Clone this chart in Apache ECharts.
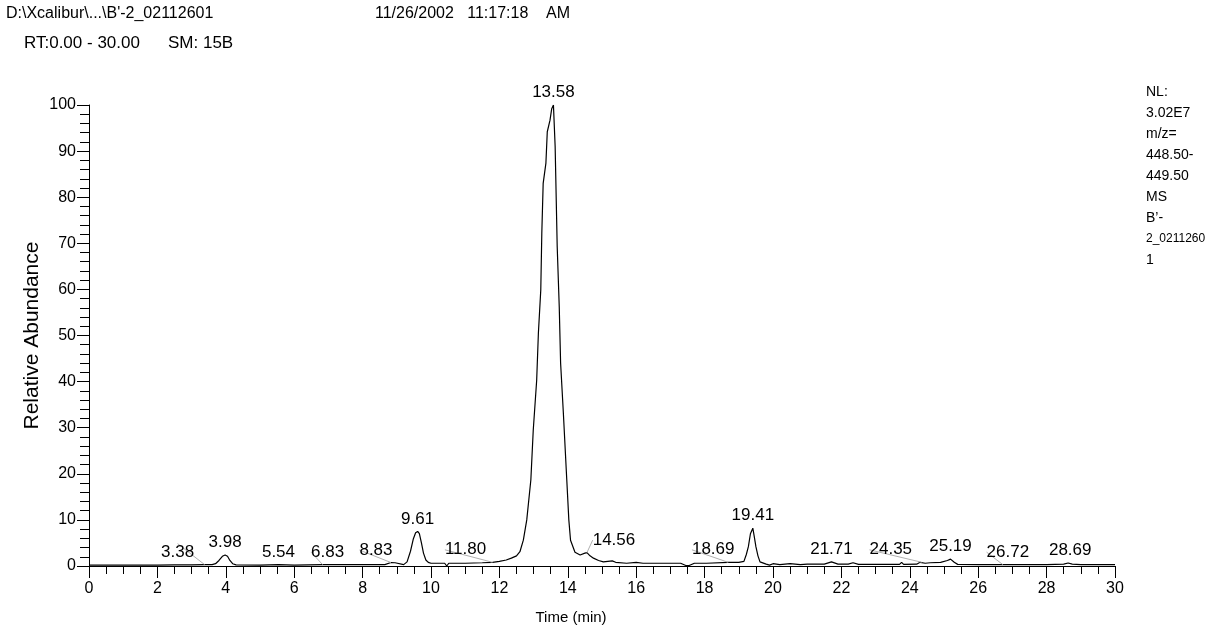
<!DOCTYPE html>
<html>
<head>
<meta charset="utf-8">
<script src="https://cdn.jsdelivr.net/npm/echarts@6/dist/echarts.min.js"></script>
<style>
  html, body { margin: 0; padding: 0; background: #fff; }
  #chart { width: 1205px; height: 626px; }
</style>
</head>
<body>
<div id="chart"></div>
<script>
// ---- Data ----
const times = [
  0, 0.5, 1, 1.5, 2, 2.5, 3, 3.38, 3.6, 3.7,
  3.8, 3.9, 3.98, 4.05, 4.12, 4.2, 4.3, 5, 5.54, 6,
  6.83, 7.5, 8, 8.5, 8.65, 8.7, 8.83, 8.95, 9.0, 9.2,
  9.3, 9.4, 9.48, 9.55, 9.61, 9.66, 9.72, 9.78, 9.85, 9.92,
  10.0, 10.4, 10.46, 10.52, 11.0, 11.5, 11.8, 12.0, 12.2, 12.35,
  12.5, 12.6, 12.7, 12.8, 12.92, 12.99, 13.09, 13.14, 13.21, 13.24,
  13.28, 13.36, 13.40, 13.48, 13.53, 13.58, 13.63, 13.69, 13.75, 13.79,
  13.87, 13.97, 14.03, 14.08, 14.21, 14.36, 14.5, 14.56, 14.65, 14.75,
  14.9, 15.04, 15.3, 15.4, 15.72, 16.0, 16.2, 16.7, 17.3, 17.45,
  17.55, 17.7, 18.06, 18.69, 19.0, 19.15, 19.22, 19.28, 19.34, 19.41,
  19.45, 19.5, 19.56, 19.62, 19.8, 19.9, 20.0, 20.2, 20.5, 20.8,
  21.0, 21.5, 21.71, 21.9, 22.2, 22.34, 22.5, 23, 23.7, 23.76,
  23.82, 24.2, 24.3, 24.45, 24.6, 24.9, 25.1, 25.19, 25.3, 25.4,
  26, 26.72, 27, 28, 28.5, 28.63, 28.75, 29, 30
];
const abundance = [
  0.2, 0.2, 0.2, 0.2, 0.2, 0.25, 0.25, 0.3, 0.3, 0.5,
  1.2, 2.1, 2.4, 2.1, 1.2, 0.5, 0.25, 0.2, 0.3, 0.2,
  0.3, 0.3, 0.3, 0.3, 0.3, 0.7, 0.75, 0.7, 0.3, 0.3,
  0.9, 3.2, 5.8, 7.2, 7.5, 7.0, 5.0, 2.8, 1.3, 0.8,
  0.6, 0.6, 0.0, 0.6, 0.6, 0.7, 0.8, 1.0, 1.3, 1.7,
  2.2, 3.1, 5.6, 10, 18.7, 29.5, 40.3, 50.5, 59.9, 72.2,
  83, 87.4, 94.2, 96.7, 99.2, 100, 91, 69.3, 56.2, 44,
  33.2, 18.7, 10, 5.6, 3.0, 2.4, 2.8, 2.9, 2.2, 1.7,
  1.2, 0.9, 1.1, 0.8, 0.6, 0.8, 0.6, 0.6, 0.6, 0.1,
  0.1, 0.6, 0.6, 0.8, 0.8, 1.0, 2.5, 4.2, 7.0, 8.2,
  6.5, 4.2, 2.2, 0.9, 0.4, 0.2, 0.5, 0.3, 0.5, 0.3,
  0.4, 0.4, 0.9, 0.4, 0.4, 0.7, 0.35, 0.35, 0.35, 0.8,
  0.35, 0.4, 0.8, 0.6, 0.7, 0.8, 1.2, 1.5, 0.8, 0.35,
  0.3, 0.3, 0.3, 0.3, 0.4, 0.65, 0.4, 0.3, 0.3
];
const peakTimes   = [3.38, 3.98, 5.54, 6.83, 8.83, 9.61, 11.80, 13.58, 14.56, 18.69, 19.41, 21.71, 24.35, 25.19, 26.72, 28.69];
const peakHeights = [0.3, 2.4, 0.3, 0.3, 0.75, 7.5, 0.8, 100, 2.9, 0.8, 8.2, 0.9, 0.8, 1.5, 0.3, 0.65];
const xTickLabels = ['0','2','4','6','8','10','12','14','16','18','20','22','24','26','28','30'];
const yTickLabels = ['0','10','20','30','40','50','60','70','80','90','100'];
const headerLeft  = 'D:\\Xcalibur\\...\\B\'-2_02112601';
const headerDate  = '11/26/2002   11:17:18    AM';
const rtText      = 'RT:0.00 - 30.00';
const smText      = 'SM: 15B';
const infoLines   = ['NL:', '3.02E7', 'm/z=', '448.50-', '449.50', 'MS', 'B\u2019-', '2_0211260', '1'];

// ---- Layout (label horizontal shifts in px) ----
const labelShift = [-27, 0, 0, 5, -15, 0, -27, 0, 27, -15, 0, 0, -31, 0, 5, 0];

const FONT = '"Liberation Sans", Arial, Helvetica, sans-serif';

const lineData = times.map((t, i) => [t, abundance[i]]);
const plainIdx = [], shiftIdx = [];
peakTimes.forEach((t, i) => (labelShift[i] === 0 ? plainIdx : shiftIdx).push(i));

const labelStyle = {
  show: true, position: 'top', distance: 4, fontSize: 17, color: '#000', fontFamily: FONT,
  formatter: p => p.value[0].toFixed(2)
};

const infoRich = infoLines.map(s => (s === '2_0211260' ? '{n|' + s + '}' : '{t|' + s + '}')).join('\n');

const chart = echarts.init(document.getElementById('chart'), null, { renderer: 'canvas' });
chart.setOption({
  animation: false,
  backgroundColor: '#fff',
  textStyle: { fontFamily: FONT, color: '#000' },
  grid: { left: 89, right: 90, top: 105, bottom: 60, containLabel: false, outerBoundsMode: 'none' },
  xAxis: {
    type: 'value', min: 0, max: 30, interval: 2,
    name: 'Time (min)', nameLocation: 'middle', nameGap: 44, nameMoveOverlap: false,
    nameTextStyle: { fontSize: 15, color: '#000', fontFamily: FONT, padding: [0, 62, 0, 0] },
    axisLine: { show: true, onZero: false, lineStyle: { color: '#000', width: 1 } },
    axisTick: { show: true, length: 12, lineStyle: { color: '#000', width: 1 } },
    minorTick: { show: true, splitNumber: 4, length: 8, lineStyle: { color: '#000', width: 1 } },
    axisLabel: { fontSize: 16, color: '#000', margin: 15, fontFamily: FONT,
      formatter: v => xTickLabels[Math.round(v / 2)] },
    splitLine: { show: false }, minorSplitLine: { show: false }
  },
  yAxis: {
    type: 'value', min: 0, max: 100, interval: 10,
    name: 'Relative Abundance', nameLocation: 'middle', nameGap: 46, nameRotate: 90, nameMoveOverlap: false,
    nameTextStyle: { fontSize: 21, color: '#000', fontFamily: FONT },
    axisLine: { show: true, lineStyle: { color: '#000', width: 1 } },
    axisTick: { show: true, length: 12, lineStyle: { color: '#000', width: 1 } },
    minorTick: { show: true, splitNumber: 5, length: 9, lineStyle: { color: '#000', width: 1 } },
    axisLabel: { fontSize: 16, color: '#000', margin: 13, fontFamily: FONT,
      formatter: v => yTickLabels[Math.round(v / 10)] },
    splitLine: { show: false }, minorSplitLine: { show: false }
  },
  series: [
    {
      type: 'line', data: lineData, showSymbol: false, symbol: 'none',
      lineStyle: { color: '#000', width: 1.2 }, silent: true, z: 3
    },
    {
      type: 'scatter', symbolSize: 0, silent: true, z: 4,
      itemStyle: { color: '#000', opacity: 1 },
      data: plainIdx.map(i => [peakTimes[i], peakHeights[i]]),
      label: labelStyle
    },
    {
      type: 'scatter', symbolSize: 0, silent: true, z: 4,
      itemStyle: { color: '#000', opacity: 1 },
      data: shiftIdx.map(i => [peakTimes[i], peakHeights[i]]),
      label: labelStyle,
      labelLayout: p => ({ dx: labelShift[shiftIdx[p.dataIndex]], dy: 0 }),
      labelLine: { show: true, lineStyle: { color: '#b0b0b0', width: 1 } }
    }
  ],
  graphic: [
    { type: 'text', left: 6, top: 6, style: { text: headerLeft, font: '16px ' + FONT, fill: '#000' } },
    { type: 'text', left: 375, top: 6, style: { text: headerDate, font: '16px ' + FONT, fill: '#000' } },
    { type: 'text', left: 24, top: 35, style: { text: rtText, font: '17px ' + FONT, fill: '#000' } },
    { type: 'text', left: 168, top: 35, style: { text: smText, font: '17px ' + FONT, fill: '#000' } },
    { type: 'text', left: 1146, top: 85, style: {
        text: infoRich, fill: '#000',
        rich: {
          t: { fontFamily: FONT, fontSize: 14, lineHeight: 21, fill: '#000' },
          n: { fontFamily: FONT, fontSize: 12, lineHeight: 21, fill: '#000' }
        }
      } }
  ]
});
</script>
</body>
</html>
